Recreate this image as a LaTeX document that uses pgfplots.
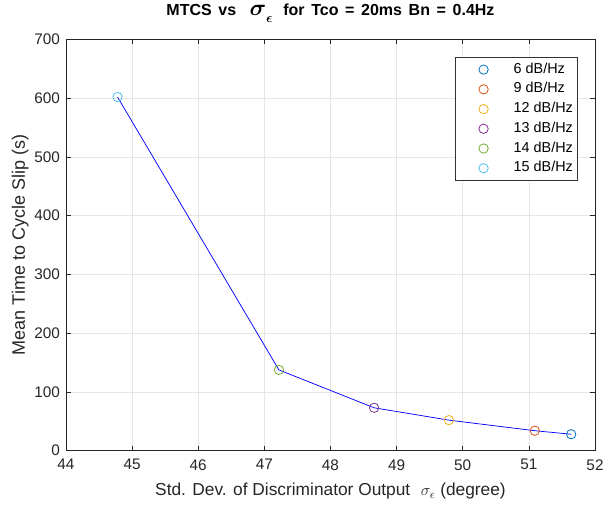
\documentclass[border=0pt]{standalone}
\usepackage{fontspec}
\setmainfont{Liberation Sans}
\usepackage{bm}
\usepackage{pgfplots}
\pgfplotsset{compat=1.18}
\usetikzlibrary{calc}
\definecolor{mblue}{rgb}{0,0.447,0.741}
\definecolor{morange}{rgb}{0.85,0.325,0.098}
\definecolor{myellow}{rgb}{0.929,0.694,0.125}
\definecolor{mpurple}{rgb}{0.494,0.184,0.556}
\definecolor{mgreen}{rgb}{0.466,0.674,0.188}
\definecolor{mcyan}{rgb}{0.301,0.745,0.933}
\begin{document}
\begin{tikzpicture}
\begin{axis}[
  name=ax,
  scale only axis, width=397pt, height=308.6pt,
  xmin=44, xmax=52, ymin=0, ymax=700,
  xtick={44,45,...,52}, ytick={0,100,...,700},
  grid=major, major grid style={black!10, line width=0.5pt},
  tick align=inside, axis line style={black!85, line width=0.5pt},
  tick style={black!85, line width=0.5pt},
  major tick length=3.5pt,
  tick label style={font=\fontsize{11.5}{13}\selectfont, text=black!85},
  xticklabel style={yshift=-3pt},
  yticklabel style={xshift=-1pt},
  /pgf/number format/assume math mode=true,
  title style={font=\fontsize{12}{14}\selectfont\bfseries, at={(axis description cs:0.5,1.0389)}, anchor=base},
  title={\spaceskip=5pt plus 1pt MTCS vs\hspace{10pt}\smash{{\fontsize{16}{16}\selectfont$\bm{\sigma}$}\raisebox{-5pt}{\fontsize{10}{10}\selectfont$\bm{\epsilon}$}}\hspace{8pt}for Tco = 20ms Bn = 0.4Hz},
  xlabel style={font=\fontsize{13}{15}\selectfont, text=black!85, at={(axis description cs:0.5,-0.1094)}, anchor=base},
  ylabel style={font=\fontsize{13.5}{15}\selectfont, text=black!85, at={(axis description cs:-0.0775,0.5)}, anchor=base, rotate=0},
  xlabel={Std. Dev. of Discriminator Output \,\,$\sigma_\epsilon$ (degree)},
  ylabel={Mean Time to Cycle Slip (s)},
  legend style={at={(axis description cs:0.9679,0.9579)}, anchor=north east,
    font=\fontsize{10.8}{12}\selectfont, draw=black!80, line width=0.5pt,
    inner xsep=0pt, inner ysep=2pt, row sep=0pt,
    nodes={text height=7.8pt, text depth=2.5pt, inner ysep=2.25pt, inner xsep=3.6pt}},
  legend cell align=left,
  legend image code/.code={\path[draw=none] (0pt,0pt) -- (40pt,0pt); \draw[#1, mark size=3.5pt] plot coordinates {(21pt,0pt)};},
]
\addplot[blue, line width=0.55pt, forget plot] coordinates {
(44.78,602) (47.22,137.5) (48.66,73) (49.79,52) (51.09,34) (51.64,28)};
\addplot[only marks, mark=o, mark size=3.5pt, mblue, line width=0.6pt] coordinates {(51.64,28)};
\addlegendentry{6 dB/Hz}
\addplot[only marks, mark=o, mark size=3.5pt, morange, line width=0.6pt] coordinates {(51.09,34)};
\addlegendentry{9 dB/Hz}
\addplot[only marks, mark=o, mark size=3.5pt, myellow, line width=0.6pt] coordinates {(49.79,52)};
\addlegendentry{12 dB/Hz}
\addplot[only marks, mark=o, mark size=3.5pt, mpurple, line width=0.6pt] coordinates {(48.66,73)};
\addlegendentry{13 dB/Hz}
\addplot[only marks, mark=o, mark size=3.5pt, mgreen, line width=0.6pt] coordinates {(47.22,137.5)};
\addlegendentry{14 dB/Hz}
\addplot[only marks, mark=o, mark size=3.5pt, mcyan, line width=0.6pt] coordinates {(44.78,602)};
\addlegendentry{15 dB/Hz}
\end{axis}
\pgfresetboundingbox
\path[use as bounding box] ($(ax.south west)+(-49.5pt,-42.75pt)$) rectangle ($(ax.north east)+(6pt,29.6pt)$);
\end{tikzpicture}
\end{document}
